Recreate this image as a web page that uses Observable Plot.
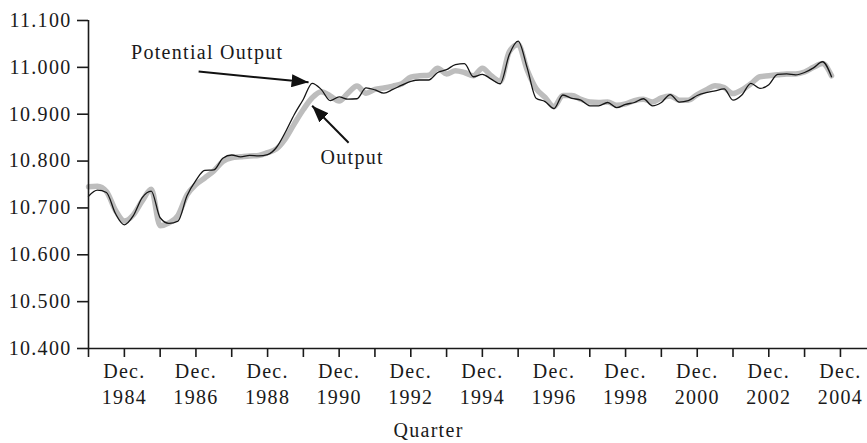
<!DOCTYPE html>
<html><head><meta charset="utf-8">
<script src="https://cdn.jsdelivr.net/npm/d3@7"></script>
<script src="https://cdn.jsdelivr.net/npm/@observablehq/plot@0.6"></script>
<style>
html,body{margin:0;padding:0;background:#fff;}
#chart svg, #chart svg text{font-family:"Liberation Serif","Times New Roman",serif !important;letter-spacing:1.3px;}
</style></head><body><div id="chart"></div>
<script>
// Quarterly observations, first quarter = Dec. 1983, 84 quarters
const firstQuarter = {year: 1983, month: 11};
const output = [10.745,10.746,10.735,10.695,10.672,10.685,10.715,10.740,10.662,10.668,
  10.684,10.728,10.750,10.764,10.779,10.799,10.807,10.809,10.811,10.812,
  10.818,10.826,10.848,10.880,10.910,10.935,10.948,10.939,10.928,10.945,
  10.960,10.945,10.953,10.956,10.960,10.965,10.979,10.982,10.983,10.998,
  10.986,10.993,10.989,10.982,10.998,10.982,10.970,11.033,11.049,10.995,
  10.955,10.936,10.916,10.940,10.940,10.932,10.926,10.925,10.926,10.919,
  10.922,10.929,10.932,10.926,10.935,10.939,10.930,10.930,10.942,10.952,
  10.961,10.957,10.944,10.952,10.965,10.980,10.982,10.984,10.986,10.986,
  10.990,11.000,11.008,10.982];
const potential = [10.725,10.738,10.733,10.688,10.664,10.683,10.722,10.736,10.679,10.667,
  10.672,10.726,10.759,10.780,10.781,10.806,10.813,10.809,10.812,10.811,
  10.814,10.829,10.862,10.900,10.932,10.966,10.953,10.929,10.937,10.932,
  10.933,10.956,10.952,10.945,10.953,10.962,10.970,10.973,10.973,10.989,
  10.995,11.006,11.008,10.980,10.985,10.975,10.965,11.027,11.056,11.000,
  10.934,10.927,10.912,10.941,10.934,10.930,10.918,10.918,10.925,10.914,
  10.921,10.925,10.933,10.918,10.925,10.942,10.926,10.929,10.940,10.946,
  10.950,10.954,10.930,10.941,10.966,10.955,10.963,10.985,10.986,10.984,
  10.989,10.999,11.012,10.980];
const tickYears = [1983,1984,1985,1986,1987,1988,1989,1990,1991,1992,1993,1994,1995,1996,1997,1998,1999,2000,2001,2002,2003,2004];
const yTicks = [10.4,10.5,10.6,10.7,10.8,10.9,11.0,11.1];
// annotations in data units (decimal year, value)
const labels = [
  {text: "Potential Output", year: 1987.23, value: 11.031},
  {text: "Output", year: 1991.28, value: 10.807}
];
const arrows = [
  {fromYear: 1986.99, fromValue: 10.991, toYear: 1990.06, toValue: 10.968},
  {fromYear: 1991.18, fromValue: 10.839, toYear: 1990.16, toValue: 10.918}
];

const quarterDate = i => new Date(Date.UTC(firstQuarter.year, firstQuarter.month + 3 * i, 1));
const yearDate = y => {
  const yr = Math.floor(y);
  const a = Date.UTC(yr, 0, 1), b = Date.UTC(yr + 1, 0, 1);
  return new Date(a + (y - yr) * (b - a));
};
const rows = output.map((v, i) => ({date: quarterDate(i), output: v, potential: potential[i]}));
const ticks = tickYears.map(y => new Date(Date.UTC(y, 11, 1)));
const font = "'Liberation Serif', 'Times New Roman', serif";

const chart = Plot.plot({
  width: 867, height: 443,
  marginLeft: 88, marginRight: 0, marginTop: 20, marginBottom: 95,
  style: {fontFamily: font, fontSize: "20px", color: "#1a1a1a", background: "#fff"},
  x: {type: "utc", domain: [new Date(Date.UTC(1983, 11, 1)), new Date(Date.UTC(2005, 8, 3))]},
  y: {domain: [10.4, 11.1]},
  marks: [
    Plot.line(rows, {x: "date", y: "output", stroke: "#bdbdbd", strokeWidth: 5.5, strokeLinejoin: "round", strokeLinecap: "round", curve: "monotone-x"}),
    Plot.line(rows, {x: "date", y: "potential", stroke: "#151515", strokeWidth: 1.3, strokeLinejoin: "round", curve: "monotone-x"}),
    Plot.ruleY([10.4], {stroke: "#1a1a1a", strokeWidth: 1.6}),
    Plot.ruleX([ticks[0]], {y1: 10.4, y2: 11.1, stroke: "#1a1a1a", strokeWidth: 1.6}),
    Plot.axisY({ticks: yTicks, tickSize: 11, tickPadding: 6, tickFormat: d3.format(".3f"), strokeWidth: 1.6, fontSize: 20, label: null}),
    Plot.axisX({ticks, tickSize: 9, tickPadding: 2, strokeWidth: 1.6, fontSize: 20, lineHeight: 1.3, label: null,
      tickFormat: d => d.getUTCFullYear() % 2 === 0 ? `Dec.\n${d.getUTCFullYear()}` : ""}),
    Plot.text(["Quarter"], {x: () => yearDate(1993.41), frameAnchor: "bottom", lineAnchor: "bottom", dy: 88, fontSize: 20, fill: "#1a1a1a"}),
    Plot.text(labels, {x: d => yearDate(d.year), y: "value", text: "text", fontSize: 20, fill: "#1a1a1a", textAnchor: "middle", lineAnchor: "middle"}),
    Plot.link(arrows, {x1: d => yearDate(d.fromYear), y1: "fromValue", x2: d => yearDate(d.toYear), y2: "toValue", stroke: "#111", strokeWidth: 2, markerEnd: "arrow"})
  ]
});
chart.querySelectorAll("marker").forEach(m => {
  m.setAttribute("viewBox", "-17 -6.5 17 13");
  m.setAttribute("markerWidth", "17");
  m.setAttribute("markerHeight", "13");
  m.setAttribute("markerUnits", "userSpaceOnUse");
  m.setAttribute("refX", "0");
  m.setAttribute("refY", "0");
  m.setAttribute("fill", "#111");
  m.setAttribute("stroke", "none");
  m.innerHTML = '<path d="M-17,-6.5L0,0L-17,6.5Z"/>';
});
document.getElementById("chart").appendChild(chart);
</script></body></html>
